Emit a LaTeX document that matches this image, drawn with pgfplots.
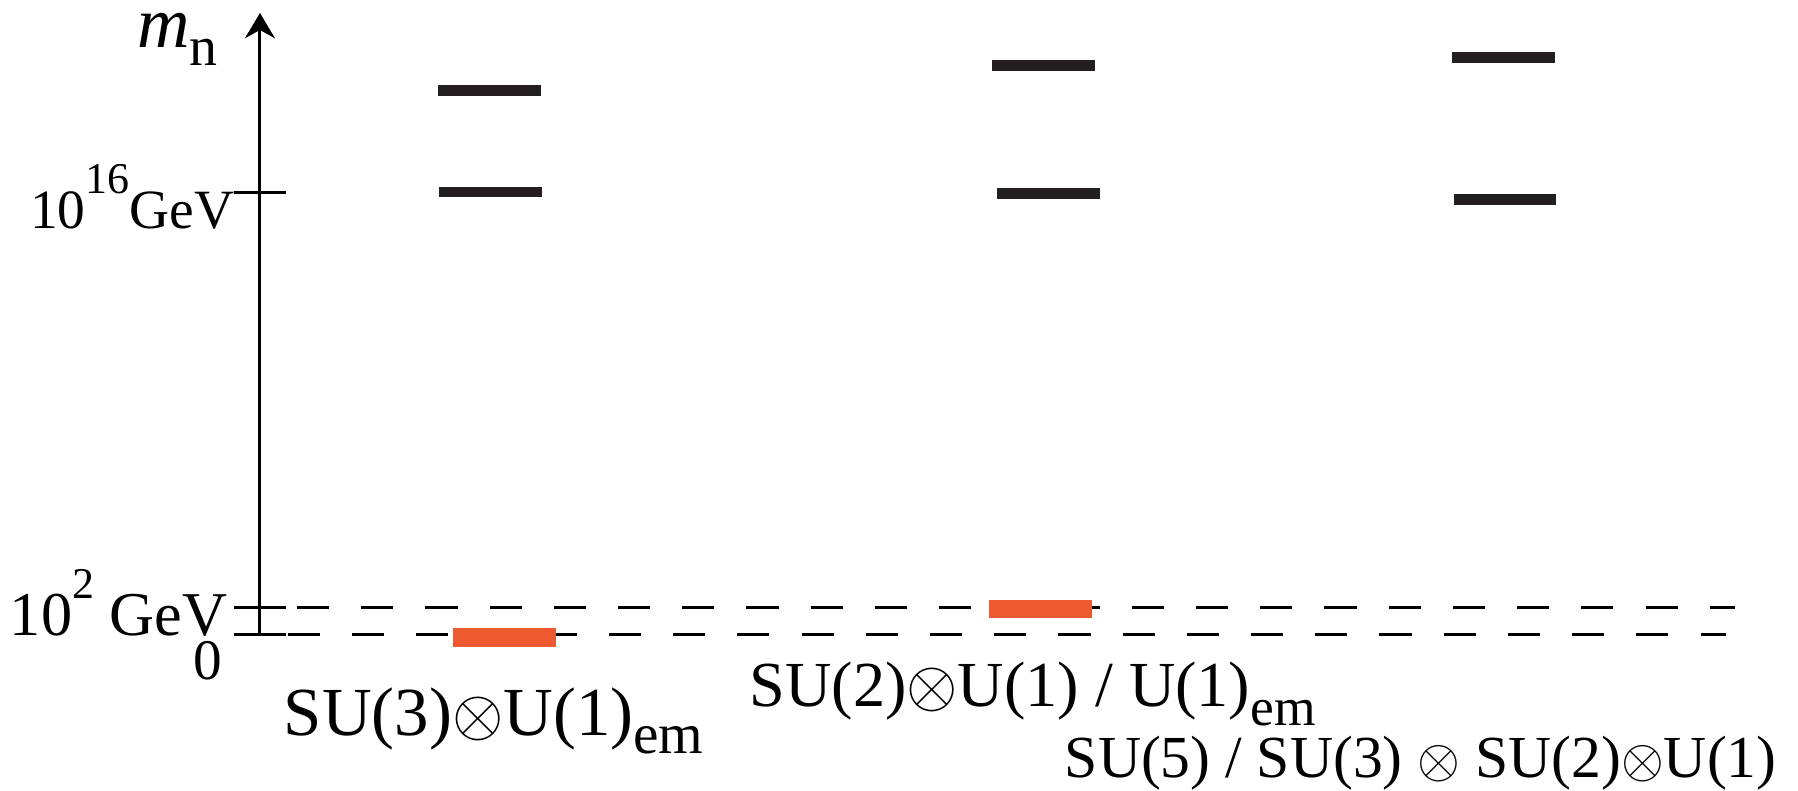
\documentclass[border=0pt]{standalone}
\usepackage{pgfplots}
\pgfplotsset{compat=1.18}
\usetikzlibrary{arrows.meta}
\usepackage{fontspec}
\setmainfont{Liberation Serif}
\definecolor{barblack}{RGB}{35,31,32}
\definecolor{barorange}{RGB}{238,90,48}
\begin{document}
\begin{tikzpicture}
\begin{axis}[
  x=0.3pt, y=0.3pt,
  xmin=226.7, xmax=1568, ymin=0, ymax=541.7,
  axis x line=none, axis y line=left,
  axis line style={line width=0.8pt, black, -{Stealth[length=6.6pt,width=7.8pt]}},
  ytick={0,23,385}, yticklabels={}, xtick=\empty,
  tick align=center, major tick length=13.8pt,
  tick style={line width=0.8pt, black},
  clip=false,
]
\path (axis cs:0,-136) rectangle (axis cs:1568,553);
% dashed reference lines
\addplot[black, line width=0.8pt, dash pattern=on 8.4pt off 8.4pt] coordinates {(259,23) (1513,23)};
\addplot[black, line width=0.8pt, dash pattern=on 8.4pt off 8.4pt] coordinates {(251,0) (1505,0)};
% group 1
\addplot[barblack, line width=2.8pt] coordinates {(382,474) (471.5,474)};
\addplot[barblack, line width=2.8pt] coordinates {(382.7,385.6) (472.7,385.6)};
\addplot[barorange, line width=4.9pt] coordinates {(395,-3) (485,-3)};
% group 2
\addplot[barblack, line width=2.8pt] coordinates {(865.4,496) (955,496)};
\addplot[barblack, line width=2.8pt] coordinates {(869.7,384.4) (959.3,384.4)};
\addplot[barorange, line width=4.9pt] coordinates {(862.5,22) (952.3,22)};
% group 3
\addplot[barblack, line width=2.8pt] coordinates {(1266,503) (1355.7,503)};
\addplot[barblack, line width=2.8pt] coordinates {(1267.6,379) (1357.3,379)};
% labels
\node[anchor=base west, inner sep=0] at (axis cs:119,512) {\fontsize{19}{19}\selectfont\textit{m}\raisebox{-4.8pt}{\fontsize{14.6}{14.6}\selectfont n}};
\node[anchor=base east, inner sep=0] at (axis cs:205,354) {\fontsize{14.5}{14.5}\selectfont 10\raisebox{9pt}{\fontsize{11.5}{11.5}\selectfont 16}GeV};
\node[anchor=base east, inner sep=0] at (axis cs:199,-1) {\fontsize{16.3}{16.3}\selectfont 10\raisebox{9.5pt}{\fontsize{11.5}{11.5}\selectfont 2} GeV};
\node[anchor=base east, inner sep=0] at (axis cs:194,-40) {\fontsize{15}{15}\selectfont 0};
\node[anchor=base west, inner sep=0] at (axis cs:247,-88) {\fontsize{18}{18}\selectfont SU(3)$\otimes$U(1)\raisebox{-4.8pt}{\fontsize{15}{15}\selectfont em}};
\node[anchor=base west, inner sep=0] at (axis cs:653,-63) {\fontsize{16.8}{16.8}\selectfont SU(2)$\otimes$U(1) / U(1)\raisebox{-5pt}{\fontsize{14}{14}\selectfont em}};
\node[anchor=base west, inner sep=0] at (axis cs:928,-125) {\fontsize{15.6}{15.6}\selectfont SU(5) / SU(3) $\otimes$ SU(2)$\otimes$U(1)};
\end{axis}
\end{tikzpicture}
\end{document}
